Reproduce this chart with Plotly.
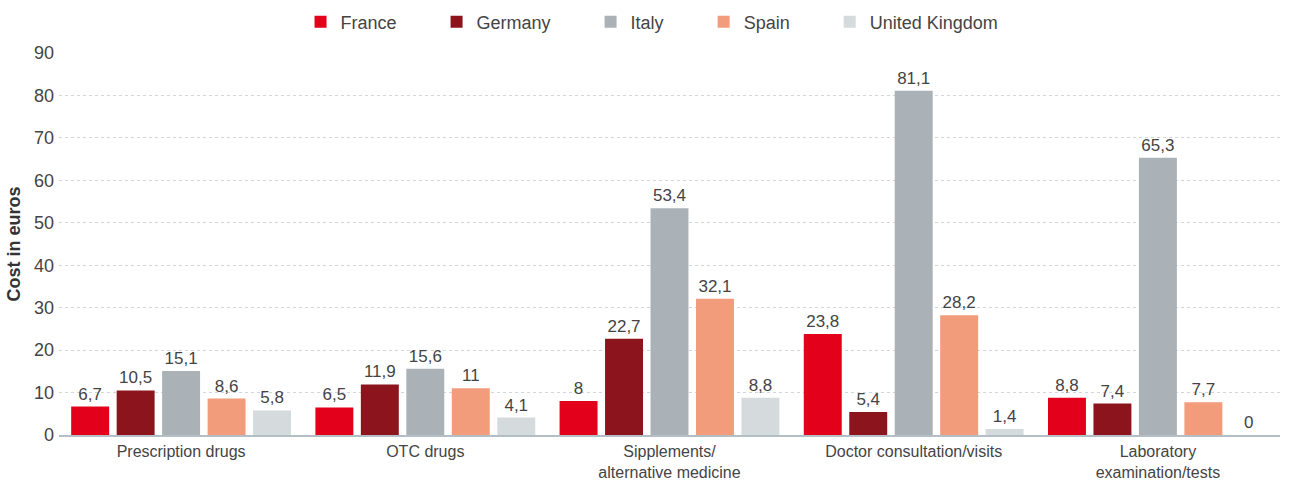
import plotly.graph_objects as go

categories = ["Prescription drugs", "OTC drugs", "Sipplements/<br>alternative medicine",
              "Doctor consultation/visits", "Laboratory<br>examination/tests"]
countries = ["France", "Germany", "Italy", "Spain", "United Kingdom"]
france = [6.7, 6.5, 8, 23.8, 8.8]
germany = [10.5, 11.9, 22.7, 5.4, 7.4]
italy = [15.1, 15.6, 53.4, 81.1, 65.3]
spain = [8.6, 11, 32.1, 28.2, 7.7]
uk = [5.8, 4.1, 8.8, 1.4, 0]
y_ticks = [0, 10, 20, 30, 40, 50, 60, 70, 80, 90]

series = [france, germany, italy, spain, uk]
colors = ["#E2001A", "#8C141C", "#ABB2B7", "#F29C7C", "#D5DADD"]

FONT = "Liberation Sans, Arial, sans-serif"
PAD = "\u00a0" * 7
fig = go.Figure()
for i, (name, vals, col) in enumerate(zip(countries, series, colors)):
    fig.add_trace(go.Bar(
        name=name + (PAD if i < len(countries) - 1 else ""),
        x=categories, y=vals, marker_color=col, marker_line_width=0,
        text=[("%g" % v).replace(".", ",") for v in vals],
        textposition="outside", constraintext="none", cliponaxis=False,
        outsidetextfont=dict(family=FONT, size=17, color="#444444"),
    ))

fig.update_layout(
    width=1290, height=483,
    margin=dict(l=59, r=10, t=53, b=48, autoexpand=False),
    paper_bgcolor="white", plot_bgcolor="white",
    barmode="group", bargap=0.069, bargroupgap=0.165,
    font=dict(family=FONT, size=16, color="#444444"),
    legend=dict(orientation="h", x=0.4857, xanchor="center", yref="container",
                y=1 - 22 / 483, yanchor="middle",
                font=dict(family=FONT, size=18, color="#444444")),
    showlegend=True,
)
fig.update_xaxes(showline=True, linecolor="#B4BEC6", linewidth=1.5, ticks="",
                 automargin=False, ticklabelstandoff=1,
                 tickfont=dict(family=FONT, size=16, color="#444444"), layer="above traces")
fig.update_yaxes(range=[0, 90], tickvals=y_ticks, showgrid=True, gridcolor="#D0D6DB",
                 griddash="3px,3px", gridwidth=1, zeroline=False, layer="above traces",
                 automargin=False,
                 tickfont=dict(family=FONT, size=18, color="#444444"), ticklabelstandoff=4,
                 title=dict(text="<b>Cost in euros</b>", standoff=8,
                            font=dict(family=FONT, size=18, color="#333333")))

fig.write_html("out.html")
